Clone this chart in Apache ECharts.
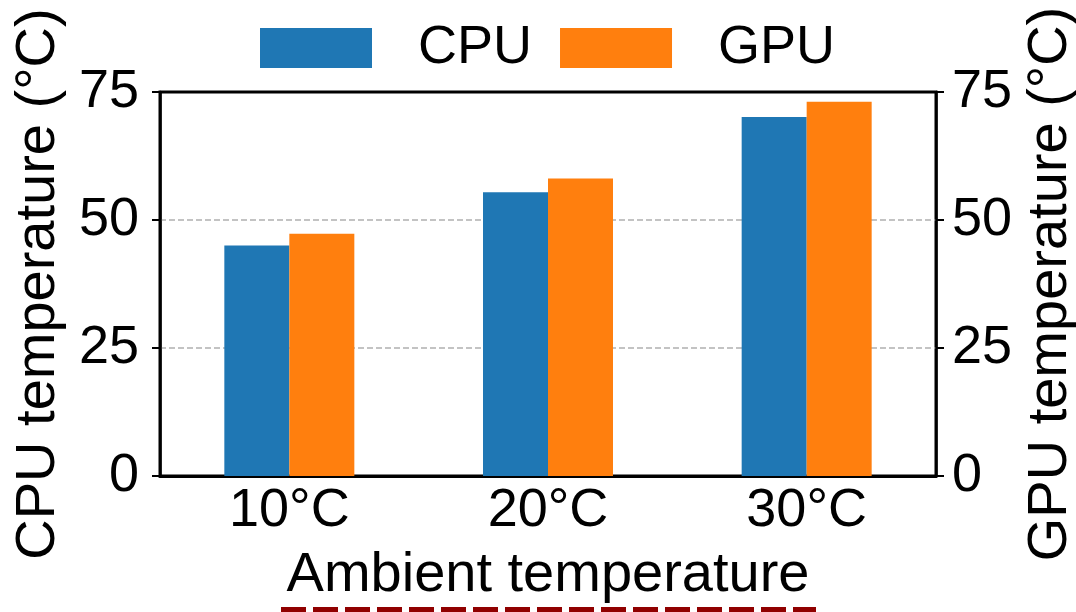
<!DOCTYPE html>
<html>
<head>
<meta charset="utf-8">
<script src="https://cdn.jsdelivr.net/npm/echarts@6/dist/echarts.min.js"></script>
<style>
html,body{margin:0;padding:0;background:#fff;}
#chart{width:1076px;height:612px;}
</style>
</head>
<body>
<div id="chart"></div>
<script>
const categories = ['10°C', '20°C', '30°C'];
const cpuTemps = [45.0, 55.4, 70.1];
const gpuTemps = [47.3, 58.1, 73.1];
const yTicks = [0, 25, 50, 75];

const FONT = 'Liberation Sans, Arial, sans-serif';
const FS = 54;
const NFS = 56;
const chart = echarts.init(document.getElementById('chart'), null, {renderer: 'canvas'});

function yAxisCfg(name, pos, gap, margin) {
  return {
    type: 'value', position: pos, min: yTicks[0], max: yTicks[yTicks.length - 1], interval: 25,
    name: name, nameLocation: 'middle', nameGap: gap, nameRotate: 90,
    nameTextStyle: {fontFamily: FONT, fontSize: NFS, color: '#000'},
    axisLine: {show: true, lineStyle: {color: '#000', width: 2.5}},
    axisTick: {show: true, length: 8, lineStyle: {color: '#000', width: 2}},
    axisLabel: {fontFamily: FONT, fontSize: FS, color: '#000', margin: margin},
    splitLine: {show: pos === 'left', showMinLine: false, showMaxLine: false,
      lineStyle: {color: '#b0b0b0', width: 1.5, type: [6, 3]}}
  };
}

chart.setOption({
  animation: false,
  backgroundColor: '#fff',
  grid: {left: 160, right: 140, top: 92, bottom: 136, outerBoundsMode: 'none', containLabel: false,
    show: true, borderColor: '#000', borderWidth: 3, backgroundColor: 'transparent'},
  legend: {
    data: ['CPU', 'GPU'], left: 255, top: 16, itemWidth: 112, itemHeight: 40, itemGap: 28,
    icon: 'rect',
    textStyle: {fontFamily: FONT, fontSize: FS, color: '#000', lineHeight: 54, padding: [0, 0, 0, 41]}
  },
  xAxis: {
    type: 'category', data: categories,
    name: 'Ambient temperature', nameLocation: 'middle', nameGap: 72,
    nameTextStyle: {fontFamily: FONT, fontSize: NFS, color: '#000'},
    axisLine: {lineStyle: {color: '#000', width: 3}},
    axisTick: {alignWithLabel: true, length: 8, lineStyle: {color: '#000', width: 2}},
    axisLabel: {fontFamily: FONT, fontSize: FS, color: '#000', margin: 8}
  },
  yAxis: [
    yAxisCfg('CPU temperature (°C)', 'left', 93, 21),
    yAxisCfg('GPU temperature (°C)', 'right', 82, 16)
  ],
  series: [
    {name: 'CPU', type: 'bar', data: cpuTemps, yAxisIndex: 0, barWidth: 65, barGap: '0%', itemStyle: {color: '#1f77b4'}},
    {name: 'GPU', type: 'bar', data: gpuTemps, yAxisIndex: 1, barWidth: 65, barGap: '0%', itemStyle: {color: '#ff7f0e'}}
  ],
  graphic: [
    {type: 'line', shape: {x1: 281, y1: 612, x2: 816, y2: 612}, style: {stroke: '#900000', lineWidth: 10, lineDash: [25, 7]}}
  ]
});
</script>
</body>
</html>
